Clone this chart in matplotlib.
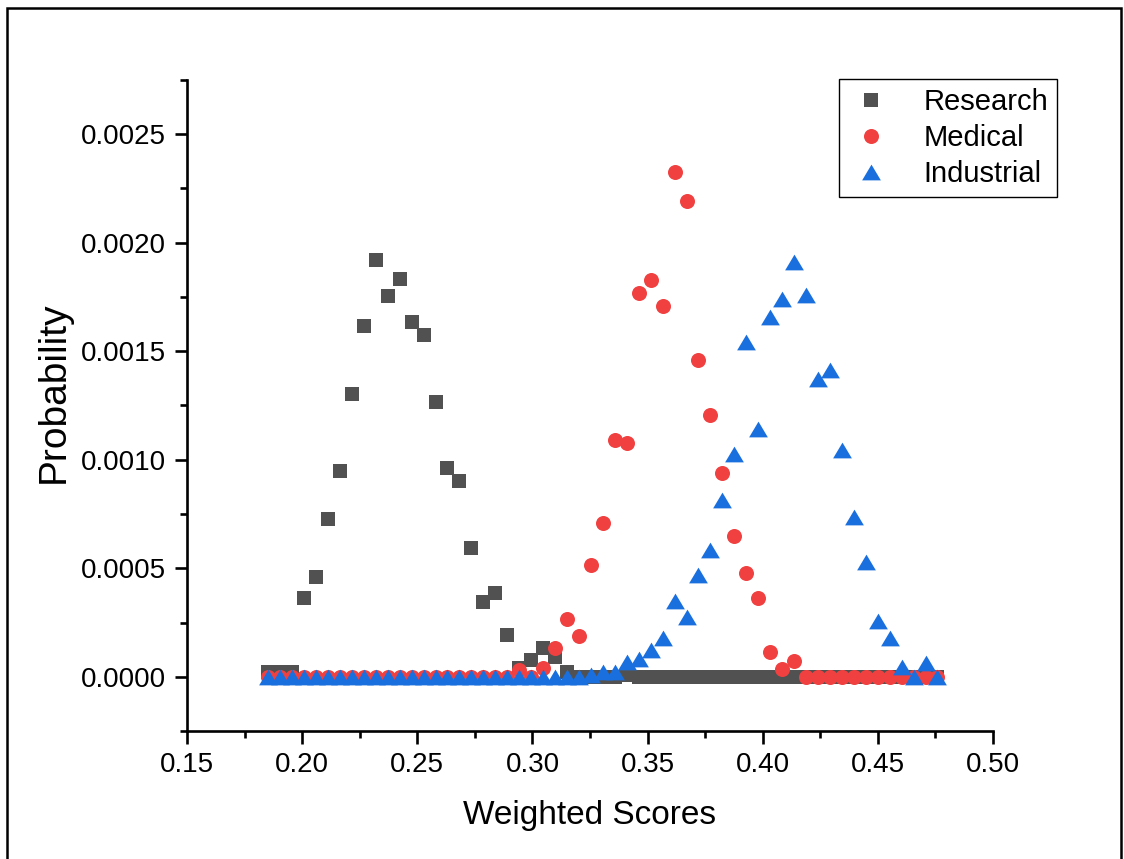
import matplotlib
matplotlib.use("Agg")
import matplotlib.pyplot as plt
from matplotlib.ticker import MultipleLocator, FormatStrFormatter
from matplotlib.patches import Rectangle

plt.rcParams['font.family'] = ['Liberation Sans', 'DejaVu Sans']

# weighted score bins (shared by all three groups)
scores = [0.1852, 0.1904, 0.1956, 0.2008, 0.2060, 0.2112, 0.2163, 0.2215, 0.2267, 0.2319,
          0.2371, 0.2423, 0.2475, 0.2527, 0.2579, 0.2631, 0.2682, 0.2734, 0.2786, 0.2838,
          0.2890, 0.2942, 0.2994, 0.3046, 0.3098, 0.3150, 0.3201, 0.3253, 0.3305, 0.3357,
          0.3409, 0.3461, 0.3513, 0.3565, 0.3617, 0.3669, 0.3720, 0.3772, 0.3824, 0.3876,
          0.3928, 0.3980, 0.4032, 0.4084, 0.4136, 0.4188, 0.4239, 0.4291, 0.4343, 0.4395,
          0.4447, 0.4499, 0.4551, 0.4603, 0.4655, 0.4707, 0.4758]

research = [0.000020, 0.000020, 0.000020, 0.000364, 0.000461, 0.000729, 0.000946, 0.001305, 0.001614, 0.001919,
            0.001753, 0.001831, 0.001637, 0.001577, 0.001268, 0.000964, 0.000904, 0.000595, 0.000346, 0.000387,
            0.000194, 0.000042, 0.000078, 0.000134, 0.000092, 0.000023, 0.0, 0.0, 0.0, 0.0,
            0.000010, 0.0, 0.0, 0.0, 0.0, 0.0, 0.0, 0.0, 0.0, 0.0,
            0.0, 0.0, 0.0, 0.0, 0.0, 0.0, 0.0, 0.0, 0.0, 0.0,
            0.0, 0.0, 0.0, 0.0, 0.0, 0.0, 0.0]

medical = [0.0, 0.0, 0.0, 0.0, 0.0, 0.0, 0.0, 0.0, 0.0, 0.0,
           0.0, 0.0, 0.0, 0.0, 0.0, 0.0, 0.0, 0.0, 0.0, 0.0,
           0.0, 0.000030, 0.0, 0.000040, 0.000132, 0.000268, 0.000189, 0.000517, 0.000707, 0.001093,
           0.001075, 0.001767, 0.001827, 0.001710, 0.002326, 0.002190, 0.001459, 0.001208, 0.000940, 0.000650,
           0.000478, 0.000363, 0.000113, 0.000036, 0.000074, 0.0, 0.0, 0.0, 0.0, 0.0,
           0.0, 0.0, 0.0, 0.0, 0.0, 0.0, 0.0]

industrial = [0.0, 0.0, 0.0, 0.0, 0.0, 0.0, 0.0, 0.0, 0.0, 0.0,
              0.0, 0.0, 0.0, 0.0, 0.0, 0.0, 0.0, 0.0, 0.0, 0.0,
              0.0, 0.0, 0.0, 0.0, 0.0, 0.0, 0.0, 0.000010, 0.000024, 0.000024,
              0.000068, 0.000082, 0.000121, 0.000178, 0.000351, 0.000275, 0.000467, 0.000586, 0.000813, 0.001027,
              0.001544, 0.001143, 0.001660, 0.001739, 0.001911, 0.001759, 0.001373, 0.001413, 0.001047, 0.000737,
              0.000530, 0.000258, 0.000179, 0.000045, 0.0, 0.000063, 0.0]

# Origin-like colours
c_research = '#515151'
c_medical = '#F14040'
c_industrial = '#1A6FDF'

# wide, flat up-triangle like Origin's
tri = [(0, 0.84), (-1, -0.84), (1, -0.84), (0, 0.84)]

fig = plt.figure(figsize=(11.24, 8.59), dpi=100)
ax = fig.add_axes([0.1664, 0.1490, 0.7171, 0.7579])

ax.plot(scores, research, linestyle='none', marker='s', markersize=9.6,
        color=c_research, markeredgewidth=0, label='Research')
ax.plot(scores, medical, linestyle='none', marker='o', markersize=10.8,
        color=c_medical, markeredgewidth=0, label='Medical')
ax.plot(scores, industrial, linestyle='none', marker=tri, markersize=13.5,
        color=c_industrial, markeredgewidth=0, label='Industrial')

ax.set_xlim(0.15, 0.50)
ax.set_ylim(-0.00025, 0.00275)

ax.xaxis.set_major_locator(MultipleLocator(0.05))
ax.xaxis.set_minor_locator(MultipleLocator(0.025))
ax.yaxis.set_major_locator(MultipleLocator(0.0005))
ax.yaxis.set_minor_locator(MultipleLocator(0.00025))
ax.xaxis.set_major_formatter(FormatStrFormatter('%.2f'))
ax.yaxis.set_major_formatter(FormatStrFormatter('%.4f'))

for side in ['top', 'right']:
    ax.spines[side].set_visible(False)
for side in ['left', 'bottom']:
    ax.spines[side].set_linewidth(1.9)

ax.tick_params(which='major', direction='out', length=9, width=1.9, labelsize=20, pad=6)
ax.tick_params(which='minor', direction='out', length=4.7, width=1.9)

ax.set_xlabel('Weighted Scores', fontsize=24)
ax.set_ylabel('Probability', fontsize=28)
ax.xaxis.set_label_coords(0.5, -0.106)
ax.yaxis.set_label_coords(-0.143, 0.52)

leg = ax.legend(loc='upper right', bbox_to_anchor=(1.079, 1.001), borderaxespad=0,
                fontsize=21, frameon=True, fancybox=False, edgecolor='black',
                framealpha=1, handletextpad=1.0, labelspacing=0.28,
                borderpad=0.3, handlelength=1.6)
leg.get_frame().set_linewidth(1.0)

# outer frame around the whole graph page
fig.patches.append(Rectangle((7 / 1124, -0.05), (1121 - 7) / 1124, 1.05 - 8 / 859,
                             transform=fig.transFigure, fill=False,
                             edgecolor='black', linewidth=1.8, clip_on=False))

fig.savefig('out.png', dpi=100)
